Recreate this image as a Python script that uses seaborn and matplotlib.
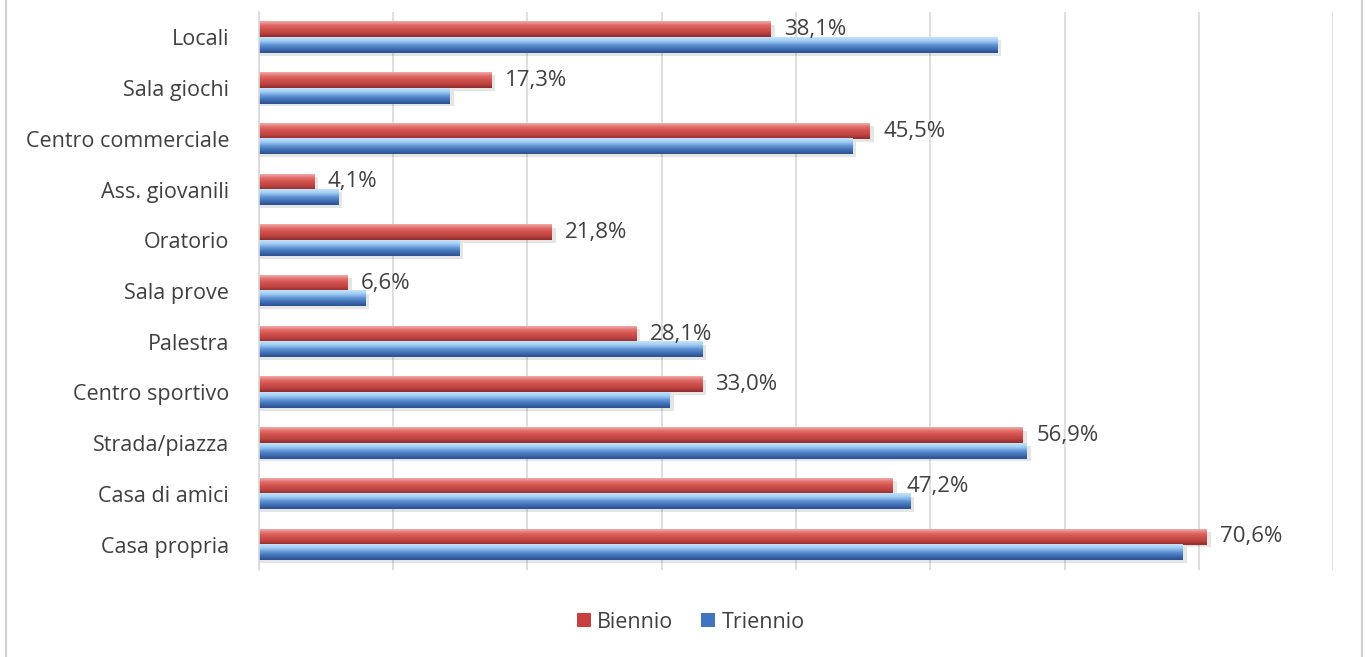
import numpy as np
import pandas as pd
import matplotlib
matplotlib.use("Agg")
import matplotlib.pyplot as plt
from matplotlib.colors import LinearSegmentedColormap
from matplotlib.patches import Rectangle
import seaborn as sns

# Luoghi frequentati nel tempo libero (%)
categorie = ["Locali", "Sala giochi", "Centro commerciale", "Ass. giovanili",
             "Oratorio", "Sala prove", "Palestra", "Centro sportivo",
             "Strada/piazza", "Casa di amici", "Casa propria"]
biennio = [38.1, 17.3, 45.5, 4.1, 21.8, 6.6, 28.1, 33.0, 56.9, 47.2, 70.6]
triennio = [55.0, 14.2, 44.2, 5.9, 14.9, 7.9, 33.0, 30.6, 57.2, 48.5, 68.8]
serie = ["Biennio", "Triennio"]

df = pd.DataFrame({
    "Luogo": categorie * 2,
    "Valore": biennio + triennio,
    "Serie": [serie[0]] * len(categorie) + [serie[1]] * len(categorie),
})

sns.set_theme(style="white")
plt.rcParams["font.family"] = ["Open Sans", "DejaVu Sans"]
testo = "#404040"

fig = plt.figure(figsize=(13.65, 6.57), dpi=100)
ax = fig.add_axes([0.1897, 0.1324, 0.7869, 0.8493])

colori = {"Biennio": "#d0504d", "Triennio": "#4a7cc0"}
sns.barplot(data=df, y="Luogo", x="Valore", hue="Serie", order=categorie,
            hue_order=serie, palette=colori, orient="h", width=0.61,
            dodge=True, legend=False, ax=ax, saturation=1)

# sfumature cilindriche per le barre
grad = {
    "Biennio": LinearSegmentedColormap.from_list(
        "rosso", ["#f2aaa8", "#e06a67", "#d0504d", "#bc423f", "#8e2c2a"]),
    "Triennio": LinearSegmentedColormap.from_list(
        "blu", ["#c4e3fb", "#9ccbf2", "#5f92d2", "#3f6db3", "#2b4f8c"]),
}
ramp = np.linspace(0, 1, 64).reshape(-1, 1)
n = len(categorie)
for i, patch in enumerate(ax.patches[:2 * n]):
    s = serie[i // n]
    x0, y0 = patch.get_x(), patch.get_y()
    w, h = patch.get_width(), patch.get_height()
    # ombra sotto la barra
    ax.add_patch(Rectangle((x0, y0 + h * 0.18), w + 0.3, h, color="#000000",
                           alpha=0.10, lw=0, zorder=1.5))
    patch.set_visible(False)
    ax.imshow(ramp, cmap=grad[s], aspect="auto", interpolation="bilinear",
              extent=(x0, x0 + w, y0 + h, y0), zorder=2)

for i, v in enumerate(biennio):
    patch = ax.patches[i]
    yc = patch.get_y() + patch.get_height() / 2
    ax.text(v + 1.0, yc, f"{v:.1f}%".replace(".", ","), va="center",
            ha="left", fontsize=16, color=testo, zorder=3)

ax.set_xlim(0, 80)
ax.set_ylim(n - 0.5, -0.5)
ax.set_xticks(np.arange(0, 81, 10))
ax.tick_params(axis="x", labelbottom=False, length=0)
ax.tick_params(axis="y", length=0, labelsize=15.5, labelcolor=testo, pad=21.5)
ax.set_xlabel("")
ax.set_ylabel("")
ax.grid(axis="x", color="#d9d9d9", lw=1.2, zorder=0)
ax.set_axisbelow(True)
for sp in ["top", "right", "bottom"]:
    ax.spines[sp].set_visible(False)
ax.spines["left"].set_color("#d9d9d9")
ax.spines["left"].set_linewidth(1.2)

# legenda
handles = [Rectangle((0, 0), 1, 1, facecolor=c, edgecolor="none")
           for c in ["#c8403d", "#3f74c0"]]
fig.legend(handles, serie, loc="center", bbox_to_anchor=(0.506, 0.053),
           ncol=2, frameon=False, fontsize=15.5, handlelength=0.65,
           handleheight=0.65, handletextpad=0.3, columnspacing=1.3,
           labelcolor=testo)

# cornice del grafico
fig.add_artist(Rectangle((0.0045, -0.01), 0.9935, 1.03,
                         transform=fig.transFigure, fill=False,
                         edgecolor="#d0d0d0", lw=1.5))

fig.savefig("out.png", dpi=100, facecolor="white")
